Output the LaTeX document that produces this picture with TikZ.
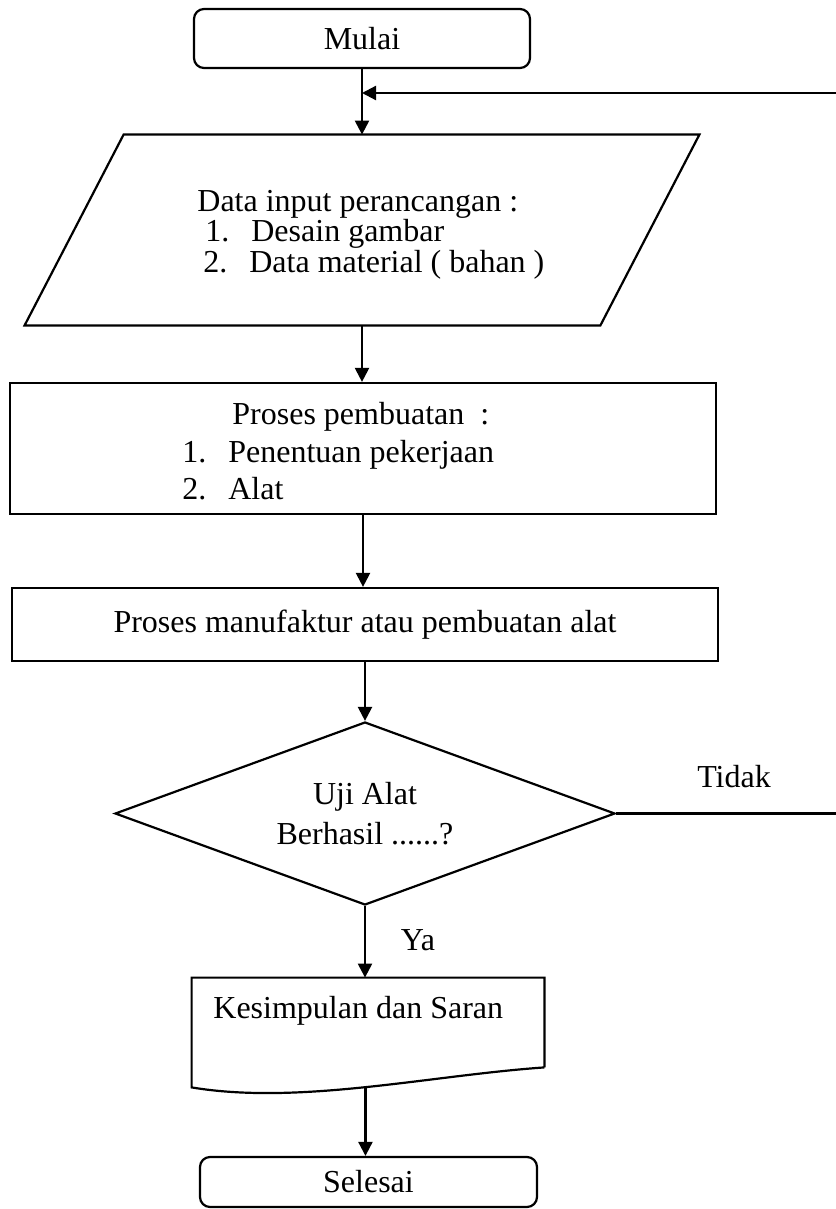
\documentclass[tikz,border=0pt]{standalone}
\usepackage{fontspec}
\setmainfont{Liberation Serif}
\usetikzlibrary{arrows.meta,shapes.geometric,calc}
\newcommand{\itm}[2]{\makebox[23pt][l]{#1}#2}
\tikzset{
	flowline/.style={line width=1.1pt},
	arr/.style={flowline, -{Triangle[length=7pt,width=7pt]}},
	txt/.style={inner sep=0pt, anchor=base west},
	holder/.style={inner sep=0pt},
	terminal/.style={draw, flowline, rounded corners=5pt, minimum width=168pt, minimum height=29.5pt, inner sep=0pt},
	proc/.style={draw, flowline, minimum width=353pt, inner sep=0pt}
}
\begin{document}
\begin{tikzpicture}[x=0.5pt, y=-0.5pt, font=\fontsize{16pt}{20pt}\selectfont]
	\useasboundingbox (0,0) rectangle (835,1209);
	% start
	\node[terminal] (mulai) at (362,38.5) {Mulai};
	% input data
	\node[holder, minimum width=287.5pt, minimum height=95pt] (data) at (362,230) {};
	\draw[flowline] ([xshift=-24.75pt]data.south west) -- ([xshift=24.75pt]data.north west)
		-- ([xshift=24.75pt]data.north east) -- ([xshift=-24.75pt]data.south east) -- cycle;
	\node[txt] (data0) at (197,212) {Data input perancangan :};
	\node[txt] (data1) at (205,242) {\itm{1.}{Desain gambar}};
	\node[txt] (data2) at (203,272) {\itm{2.}{Data material ( bahan )}};
	% process
	\node[proc, minimum height=65.5pt] (proses) at (363,448.5) {};
	\node[txt] (proses0) at (232,424) {Proses pembuatan\ \ :};
	\node[txt] (proses1) at (182,462) {\itm{1.}{Penentuan pekerjaan}};
	\node[txt] (proses2) at (182,499) {\itm{2.}{Alat}};
	\node[proc, minimum height=36.5pt] (manuf) at (365,624.5) {Proses manufaktur atau pembuatan alat};
	% decision
	\node[diamond, draw, flowline, shape aspect=2.73, minimum width=250pt, minimum height=91.5pt,
		inner sep=0pt, align=center] (uji) at (365,813.5) {Uji Alat\\Berhasil ......?};
	\node[holder] (tidak) at (734,777) {Tidak};
	\node[holder] (ya) at (418,940) {Ya};
	% document
	\node[holder, minimum width=176pt, minimum height=44.5pt] (kes) at (368,1022.5) {};
	\draw[flowline] (kes.south east) -- (kes.north east) -- (kes.north west) -- ([yshift=-10pt]kes.south west)
		.. controls ([xshift=54pt,yshift=-19pt]kes.south west) and ([xshift=119pt,yshift=-4pt]kes.south west)
		.. coordinate[pos=0.5] (kesout) (kes.south east);
	\node[txt] (kes0) at (213,1018) {Kesimpulan dan Saran};
	% end
	\node[terminal, minimum width=168.5pt, minimum height=25pt] (selesai) at (368.5,1182) {Selesai};
	% connectors
	\coordinate (join) at (362,93);
	\draw[arr] (mulai) -- (data);
	\draw[arr] (data) -- (data |- proses.north);
	\draw[arr] (proses) -- (proses |- manuf.north);
	\draw[arr] (manuf) -- (uji);
	\draw[arr] (uji) -- (uji |- kes.north);
	\draw[arr] (kesout) -- (kesout |- selesai.north);
	\draw[arr] (uji.east) -- ++(265,0) |- (join);
\end{tikzpicture}
\end{document}
